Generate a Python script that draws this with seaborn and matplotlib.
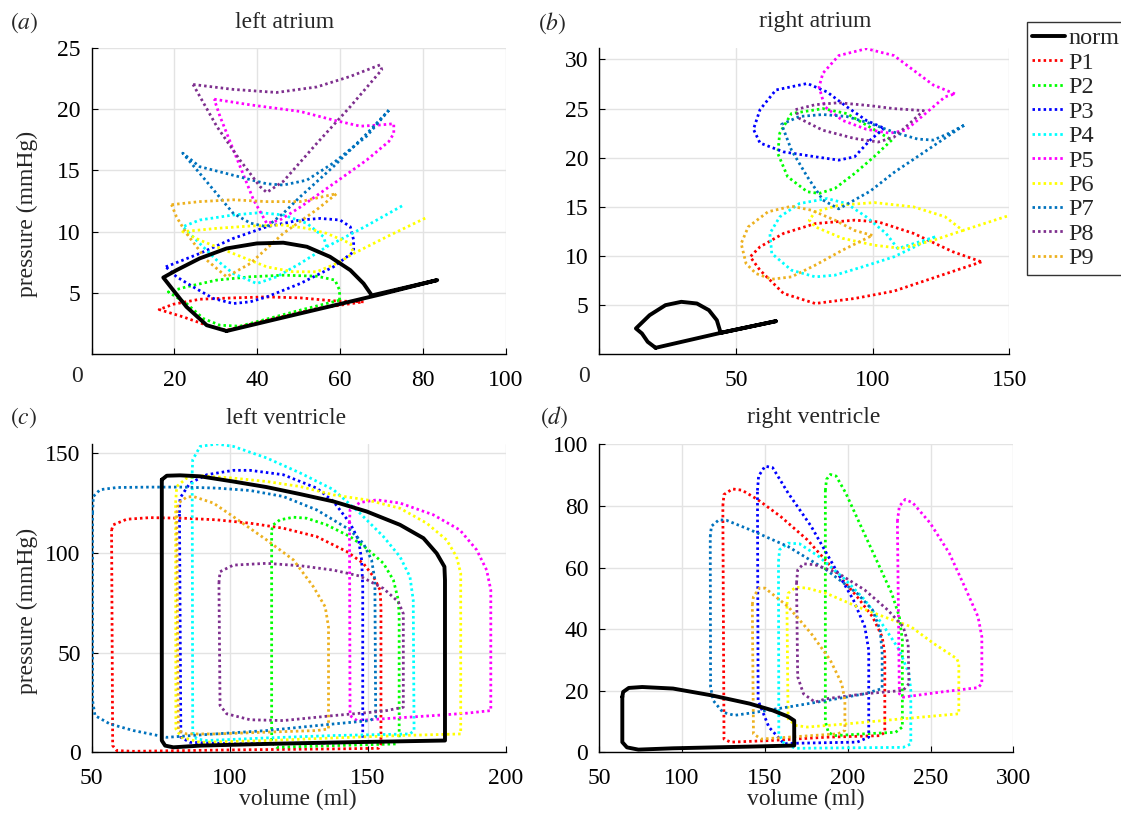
import numpy as np
import pandas as pd
import matplotlib
matplotlib.use("Agg")
import matplotlib.pyplot as plt
from matplotlib.lines import Line2D
import seaborn as sns

SERIES = ["norm", "P1", "P2", "P3", "P4", "P5", "P6", "P7", "P8", "P9"]
COLORS = {"norm": "#000000", "P1": "#ff0000", "P2": "#00ff00", "P3": "#0000ff",
          "P4": "#00ffff", "P5": "#ff00ff", "P6": "#ffff00", "P7": "#0072bd",
          "P8": "#7e2f8e", "P9": "#edb120"}

# ---------------- (a) left atrium ----------------
LA_V = {
    "norm": [32.6, 45, 60, 70, 83.5, 67.7, 65.7, 62.5, 57.6, 52.0, 46.3, 39.9, 32.6, 26.1, 20.5, 17.3, 19.7, 22.9, 27.8, 32.6],
    "P1": [65.7, 58.4, 50.4, 42.3, 34.2, 26.1, 19.7, 16.3, 22.1, 27.8, 32.6, 42.3, 54.4, 65.7],
    "P2": [59.9, 59.9, 58.8, 54.4, 46.3, 38.3, 30.2, 22.9, 18.5, 22.9, 27.0, 31.0, 35.8, 50.4, 59.9],
    "P3": [17.9, 26.1, 34.2, 42.3, 50.4, 55.2, 60, 62.5, 63.3, 63.3, 58.4, 50.4, 42.3, 38.3, 34.2, 29.4, 24.5, 20.5, 17.9],
    "P4": [75, 66, 56.8, 50.4, 44.7, 39.9, 34.2, 30.2, 26.1, 22, 26.1, 34.2, 40.7, 46.3, 52, 56, 56.8],
    "P5": [29.6, 38.3, 50.4, 58.4, 64.9, 69.7, 73, 73, 71.8, 66.5, 58.4, 50.4, 45.5, 42.3, 39.1, 34.2, 31, 29.6],
    "P6": [80.6, 72, 63.3, 59.2, 54.4, 48.7, 42.3, 34.2, 26.1, 22, 30.2, 38.3, 46.3, 52, 56.8, 62.5, 63.3],
    "P7": [71.8, 66.5, 58.4, 52, 46.3, 42.3, 34.2, 26.1, 22, 26.1, 30.2, 34.2, 38.3, 42.3, 46.3, 50.4, 58.4, 66.5, 71.8],
    "P8": [24.5, 34.2, 44.7, 54.4, 62.5, 69.7, 70.1, 62.5, 54.4, 46.3, 42.3, 40.7, 35.8, 30.2, 24.5],
    "P9": [19.3, 26.1, 34.2, 42.3, 50.4, 59.2, 54.4, 46.3, 38.3, 32.6, 27.8, 22.9, 20.5, 19.3],
}
LA_P = {
    "norm": [1.9, 2.9, 4.1, 4.9, 6.05, 4.8, 5.77, 6.86, 7.95, 8.77, 9.1, 9.04, 8.63, 7.82, 6.86, 6.26, 5.23, 3.87, 2.37, 1.9],
    "P1": [4.28, 4.36, 4.6, 4.68, 4.6, 4.49, 4.08, 3.65, 3.05, 2.37, 1.96, 2.78, 3.73, 4.28],
    "P2": [4.41, 5.23, 6.05, 6.37, 6.45, 6.32, 6.05, 5.5, 5.09, 4.14, 2.91, 2.37, 2.29, 3.6, 4.41],
    "P3": [7.13, 8.22, 9.45, 10.4, 10.95, 11.08, 10.95, 10.4, 9.31, 8.36, 7.13, 5.77, 4.68, 4.28, 4.14, 4.55, 5.5, 6.32, 7.13],
    "P4": [12.1, 10.4, 8.77, 7.41, 6.32, 5.77, 6.59, 7.68, 9.04, 10.4, 10.95, 11.36, 11.55, 11.36, 10.68, 9.59, 8.77],
    "P5": [20.8, 20.34, 19.8, 19.1, 18.6, 18.7, 18.8, 18.0, 17.35, 15.85, 13.9, 12.0, 10.95, 10.68, 12.6, 16.7, 19.4, 20.8],
    "P6": [11.1, 9.7, 8.22, 7.41, 6.73, 6.73, 7.13, 8.22, 9.31, 10.0, 10.27, 10.46, 10.54, 10.27, 9.86, 9.04, 8.22],
    "P7": [19.9, 17.8, 15.6, 14.2, 13.8, 13.9, 14.6, 15.3, 16.4, 14.76, 13.1, 11.5, 10.7, 10.4, 11.5, 12.85, 15.3, 18.0, 19.9],
    "P8": [22.0, 21.6, 21.35, 21.8, 22.66, 23.6, 23.2, 20.2, 17.2, 14.1, 13.2, 13.67, 15.85, 18.6, 22.0],
    "P9": [12.2, 12.45, 12.6, 12.45, 12.45, 13.1, 11.8, 9.86, 7.4, 6.32, 7.68, 9.86, 11.2, 12.2],
}

# ---------------- (b) right atrium ----------------
RA_V = {
    "norm": [20.6, 44.4, 64.6, 44.4, 43, 40.1, 35.7, 30, 24.2, 18.4, 13.4, 15.6, 17.7, 20.6],
    "P1": [139.8, 107.8, 93.4, 79, 67.4, 58.8, 55.2, 58.8, 67.4, 79, 93.4, 102, 115, 129.4, 139.8],
    "P2": [107, 100.5, 93.4, 86.2, 80.4, 76.1, 68.9, 65.3, 66, 70.3, 81.8, 90.5, 99.1, 107],
    "P3": [104.2, 99.1, 93.4, 87.6, 79, 67.4, 58.8, 56.4, 58.8, 64.6, 76.1, 83.3, 90.5, 97.7, 104.2],
    "P4": [122.9, 109.2, 104.9, 97.7, 90.5, 83.3, 73.2, 66, 62.4, 63.1, 70.3, 79, 86.2, 96.3, 107.8, 122.9],
    "P5": [130.1, 122.2, 115, 107.8, 97.7, 87.6, 81.8, 80.4, 82.5, 89, 97.7, 106.3, 112.1, 119.3, 126.5, 130.1],
    "P6": [153, 133, 126.5, 115, 100.6, 87.6, 79, 76.8, 79, 89, 100.6, 110.7, 122.2, 133],
    "P7": [133.4, 128, 122.2, 116.5, 107.8, 99.1, 90.5, 81.8, 73.2, 66.7, 70.3, 76.1, 81.8, 87.6, 99.1, 107.8, 122.2, 133.4],
    "P8": [71.8, 79, 87.6, 99.1, 107.8, 118.6, 113.6, 107.8, 102, 93.4, 81.8, 73.2, 71.8],
    "P9": [99.9, 93.4, 86.2, 77.5, 70.3, 61.7, 54.5, 51.9, 53.7, 57.3, 63.1, 70.3, 79, 89, 99.9],
}
RA_P = {
    "norm": [0.66, 2.18, 3.37, 2.18, 3.47, 4.49, 5.17, 5.34, 5.0, 3.98, 2.63, 2.12, 1.27, 0.66],
    "P1": [9.41, 6.43, 5.68, 5.17, 6.19, 8.56, 9.92, 10.94, 12.3, 13.3, 13.65, 13.48, 12.3, 10.43, 9.41],
    "P2": [21.8, 20.1, 18.4, 16.88, 16.37, 16.54, 18.07, 20.44, 22.5, 24.5, 25.0, 24.5, 23.1, 21.8],
    "P3": [23.0, 21.8, 20.1, 19.76, 20.1, 20.6, 21.5, 22.9, 24.9, 26.9, 27.56, 26.7, 25.2, 23.8, 23.0],
    "P4": [11.95, 10.76, 12.3, 13.98, 15.34, 15.85, 15.34, 13.98, 12.3, 10.26, 8.56, 7.88, 8.05, 8.9, 9.92, 11.95],
    "P5": [26.5, 27.4, 28.9, 30.4, 31.1, 30.4, 28.6, 27.2, 25.2, 23.8, 22.9, 22.5, 22.8, 24.5, 26.2, 26.5],
    "P6": [14.4, 12.6, 14.0, 15.0, 15.44, 15.17, 14.5, 13.65, 12.97, 11.8, 11.1, 10.77, 11.6, 12.6],
    "P7": [23.3, 22.5, 21.8, 21.9, 22.6, 23.5, 24.2, 24.4, 24.2, 23.4, 20.78, 18.07, 15.7, 14.8, 16.6, 18.5, 21.2, 23.3],
    "P8": [24.9, 25.4, 25.6, 25.3, 25.0, 24.8, 23.5, 22.1, 21.6, 21.96, 22.8, 24.0, 24.9],
    "P9": [12.1, 12.6, 13.65, 14.67, 15.07, 14.5, 12.97, 11.27, 9.23, 8.22, 7.64, 7.88, 9.07, 10.6, 12.1],
}

# ---------------- (c) left ventricle ----------------
LV_V = {
    "norm": [75.4, 77.2, 82, 89.3, 101.3, 113.4, 125.5, 137.6, 149.6, 161.7, 170.2, 175, 177.8, 178, 178, 161.7, 137.6, 113.4, 89.3, 79.6, 76.6, 75.4, 75.4],
    "P1": [57.2, 57.8, 62.7, 71.1, 83.2, 95.3, 107.4, 119.4, 131.5, 142.4, 148.4, 152.1, 154.5, 154.8, 154.8, 153.9, 137.6, 101.3, 65.1, 59.1, 57.6, 57.2],
    "P2": [115.2, 115.8, 118.2, 123.1, 127.9, 135.1, 143.6, 149.6, 155.7, 159.3, 161.1, 161.4, 161.4, 160.5, 137.6, 117, 115.2, 115.2],
    "P3": [81.8, 82, 85.6, 91.7, 101.3, 107.4, 119.4, 131.5, 137.6, 143.6, 146.7, 147.8, 148.2, 148.2, 148.2, 125.5, 101.3, 85.6, 82.3, 81.8],
    "P4": [86.4, 86.6, 89.3, 95.3, 101.3, 113.4, 125.5, 137.6, 147.2, 155.7, 161.7, 165.3, 166.5, 166.8, 165.3, 137.6, 113.4, 91.7, 88.0, 86.6, 86.4],
    "P5": [143.4, 143.6, 147.2, 153.3, 161.7, 173.8, 183.4, 189.5, 193.1, 194.6, 194.6, 185.9, 173.8, 155.7, 146.1, 143.6, 143.4],
    "P6": [80.4, 80.8, 84.4, 89.3, 101.3, 113.4, 125.5, 137.6, 149.6, 161.7, 171.4, 178.6, 182.2, 183.7, 183.7, 161.7, 137.6, 113.4, 89.3, 82.6, 80.5, 80.4],
    "P7": [50.3, 50.6, 53, 59.1, 71.1, 83.2, 95.3, 107.4, 119.4, 131.5, 143.6, 148.4, 151.4, 152.6, 152.9, 150.8, 137.6, 113.4, 89.3, 77.2, 65.1, 56.6, 51.2, 50.3, 50.3],
    "P8": [96.1, 96.5, 101.3, 113.4, 125.5, 137.6, 147.2, 155.7, 161.1, 162.9, 162.9, 155.7, 137.6, 119.4, 107.4, 98.9, 96.5, 96.1],
    "P9": [80.8, 81.4, 84.4, 86.8, 94.1, 101.3, 113.4, 123.1, 130.3, 134.6, 135.8, 135.8, 131.6, 113.4, 95.3, 84.4, 81.4, 80.8],
}
LV_P = {
    "norm": [136.6, 138.6, 138.8, 138.3, 135.7, 132.9, 129.4, 125.7, 120.7, 114, 107.3, 99.7, 93, 86.3, 5.9, 5.5, 4.9, 4.2, 3.35, 2.5, 3.35, 5.9, 136.6],
    "P1": [111.4, 114, 116.8, 117.6, 117.3, 116.5, 114.8, 112.3, 108.1, 100.6, 94.7, 88, 81.3, 72.9, 4.2, 2.0, 1.7, 1.2, 0.5, 0.84, 3.35, 111.4],
    "P2": [111.4, 114, 116.5, 117.8, 117.3, 114, 108.1, 102.2, 94.7, 86.3, 76.3, 67.9, 5.9, 4.2, 3.35, 2.5, 5.0, 111.4],
    "P3": [120, 127.4, 134.9, 139.1, 141.3, 141.3, 139.1, 132.4, 125.7, 114.8, 106.4, 96.4, 83, 7.5, 5.0, 4.5, 4.2, 5.0, 7.5, 120],
    "P4": [140, 146.6, 153.3, 154.5, 153.3, 147.5, 140, 131.6, 119.8, 108.1, 98, 88, 76.3, 10.9, 9.2, 8.4, 7.2, 5.9, 6.7, 10, 140],
    "P5": [115, 121.5, 125.2, 126.5, 124.9, 119, 111.4, 101.4, 91.3, 81.3, 20.9, 19.6, 18.4, 16.8, 15.9, 18.4, 115],
    "P6": [125, 133.2, 137.4, 138.6, 137.4, 135.7, 133.2, 129, 126.5, 122.3, 114.8, 106.4, 98, 89.7, 9.2, 8.4, 7.2, 5.9, 5.0, 7.5, 11.7, 125],
    "P7": [120, 128.2, 131.6, 132.7, 132.9, 132.9, 132.4, 131.2, 128.2, 121.5, 111.4, 104.7, 96.4, 86.3, 17.6, 15.9, 14.2, 10.9, 8.7, 7.5, 10.9, 14.2, 18.4, 26, 120],
    "P8": [85, 90.5, 93.8, 94.7, 93.5, 91.3, 88.3, 82.1, 75.4, 69.5, 22.6, 20.6, 18.4, 15.9, 16.3, 19.3, 23.5, 85],
    "P9": [120, 124.9, 127.9, 128.2, 124.9, 118.1, 106.4, 96.4, 83, 72.9, 62.8, 11.7, 10.9, 10.1, 9.2, 9.2, 10.9, 120],
}

# ---------------- (d) right ventricle ----------------
RV_V = {
    "norm": [63.9, 64.4, 67.8, 75.9, 94.5, 117.7, 140.8, 154.7, 164, 167.7, 167.7, 140.8, 94.5, 73.6, 66.7, 63.9, 63.9],
    "P1": [124.6, 125.3, 130.4, 136.2, 145.5, 159.4, 175.6, 191.8, 205.7, 215, 220.8, 222.4, 222.4, 219.6, 187.2, 152.4, 129.2, 125.3, 124.6],
    "P2": [186.5, 187.2, 189.5, 193, 198.8, 208, 217.3, 226.6, 231.2, 233, 233, 228.9, 210.3, 191.8, 188.3, 186.5, 186.5],
    "P3": [145.5, 146.2, 150.1, 154.7, 164, 177.9, 191.8, 203.4, 210.3, 212.7, 212.7, 205.7, 164, 161.7, 152.4, 145.9, 145.5],
    "P4": [158.2, 158.9, 164, 170.9, 182.5, 198.7, 210.3, 221.9, 231.2, 237, 238.1, 238.1, 233.5, 187.2, 168.6, 161.7, 158.4, 158.2],
    "P5": [230, 231.2, 234.7, 239.3, 249.7, 261.3, 270.6, 278.7, 281, 281, 278.7, 256.7, 233.5, 231.2, 230],
    "P6": [163.3, 164, 168.6, 175.6, 187.2, 205.7, 221.9, 238.1, 252, 265.9, 267.1, 267.1, 233.5, 198.7, 175.6, 168.6, 164, 163.3],
    "P7": [117, 117.7, 122.3, 126.9, 140.8, 164, 187.2, 205.7, 215, 219.6, 220.8, 220.8, 210.3, 187.2, 164, 140.8, 131.6, 124.6, 118.8, 117.2, 117],
    "P8": [169.1, 169.8, 173.3, 180.2, 194.1, 210.3, 224.2, 233.5, 236.5, 237, 233.5, 210.3, 187.2, 180.2, 173.3, 169.8, 169.1],
    "P9": [142.4, 143.1, 146.6, 150.1, 164, 177.9, 189.5, 196.4, 198.3, 198.3, 194.1, 164, 147.7, 143.1, 142.4],
}
RV_P = {
    "norm": [18, 19.6, 20.9, 21.2, 20.7, 18.5, 15.8, 13.6, 11.6, 10.3, 2.2, 1.85, 1.3, 0.87, 1.6, 3.3, 18],
    "P1": [80, 83.7, 85.5, 85.1, 82.1, 76.6, 69, 59.2, 50.5, 44, 37.5, 32.1, 6.5, 5.4, 4.9, 3.8, 3.3, 4.3, 80],
    "P2": [85, 88.6, 90.2, 89.7, 84.2, 73.4, 62.5, 51.6, 44, 36.4, 8.2, 6.5, 6.0, 5.4, 6.5, 10, 85],
    "P3": [85, 89.7, 92.9, 92.4, 84.2, 73.4, 60.3, 49.5, 40.8, 33.2, 4.9, 3.3, 2.9, 2.7, 8.2, 16.8, 85],
    "P4": [62, 65.8, 67.9, 67.7, 63.6, 56, 49.5, 40.8, 33.2, 25.5, 20.1, 2.7, 1.6, 1.4, 1.3, 2.7, 6, 62],
    "P5": [75, 79.9, 82.1, 81, 74.5, 64.7, 53.8, 44, 37.5, 22.3, 21, 19.6, 17.9, 19, 75],
    "P6": [48, 51.6, 53.6, 53.3, 51.6, 47.3, 44, 40.8, 35.3, 30.4, 28.8, 12.5, 10.9, 9.2, 8.2, 8.7, 10.9, 48],
    "P7": [70, 73.4, 75.5, 75.3, 72.3, 66.8, 59.2, 51.6, 46.2, 39.7, 32.1, 20.7, 19, 16.8, 14.7, 12.7, 12, 13, 16.8, 21.2, 70],
    "P8": [55, 59.2, 61.2, 60.9, 58.2, 52.7, 46.2, 40.8, 35.3, 22.3, 20.1, 19, 17.4, 16.3, 19, 24.5, 55],
    "P9": [48, 50.5, 53.3, 53.3, 47.3, 38.6, 29.9, 22.3, 16.8, 7.1, 6, 4.9, 4.3, 6, 48],
}

TITLES = ["left atrium", "right atrium", "left ventricle", "right ventricle"]
LETTERS = ["a", "b", "c", "d"]
XLIMS = [(0, 100), (0, 150), (50, 200), (50, 300)]
YLIMS = [(0, 25), (0, 31.2), (0, 154.5), (0, 100)]
XTICKS = [[0, 20, 40, 60, 80, 100], [0, 50, 100, 150], [50, 100, 150, 200], [50, 100, 150, 200, 250, 300]]
YTICKS = [[5, 10, 15, 20, 25], [5, 10, 15, 20, 25, 30], [0, 50, 100, 150], [0, 20, 40, 60, 80, 100]]

sns.set_theme(style="white")
plt.rcParams["font.family"] = ["Liberation Serif", "DejaVu Serif"]
plt.rcParams["mathtext.fontset"] = "stix"

W, H = 1121, 813
fig = plt.figure(figsize=(W / 100, H / 100), dpi=100)
boxes = [(91.7, 47.7, 505.5, 354.3), (599.3, 47.7, 1009.3, 354.3),
         (91.7, 444.0, 505.7, 752.3), (599.3, 444.3, 1013.3, 752.3)]
axes = []
for (l, t, r, b) in boxes:
    axes.append(fig.add_axes([l / W, 1 - b / H, (r - l) / W, (b - t) / H]))

panels = [(LA_V, LA_P), (RA_V, RA_P), (LV_V, LV_P), (RV_V, RV_P)]
FS = 17
DOT = (0, (0.9, 1.1))


def fx(px):
    return px / W


def fy(py):
    return 1 - py / H


for i, (ax, (vd, pd_)) in enumerate(zip(axes, panels)):
    for s in SERIES[1:] + ["norm"]:
        df = pd.DataFrame({"v": vd[s], "p": pd_[s]})
        if s == "norm":
            sns.lineplot(data=df, x="v", y="p", sort=False, estimator=None, ax=ax,
                         color="black", lw=2.8, zorder=5)
        else:
            sns.lineplot(data=df, x="v", y="p", sort=False, estimator=None, ax=ax,
                         color=COLORS[s], lw=2.0, linestyle=DOT, zorder=3)
    ax.set_xlim(*XLIMS[i])
    ax.set_ylim(*YLIMS[i])
    ax.set_xticks(XTICKS[i])
    ax.set_yticks(YTICKS[i])
    xl = [str(t) for t in XTICKS[i]]
    if i < 2:
        xl[0] = ""  # the zero label sits left of the axis in the reference
    ax.set_xticklabels(xl)
    ax.grid(True, color="#e3e3e3", lw=1.0)
    ax.set_axisbelow(True)
    for sp in ["top", "right"]:
        ax.spines[sp].set_visible(False)
    for sp in ["left", "bottom"]:
        ax.spines[sp].set_color("black")
        ax.spines[sp].set_linewidth(1.0)
    ax.tick_params(direction="in", length=4, width=0.8, labelsize=FS,
                   left=True, bottom=True, colors="black")
    ax.tick_params(axis="x", pad=11)
    ax.tick_params(axis="y", pad=8)
    ax.set_xlabel("")
    ax.set_ylabel("")

# zero labels of the atrium panels
fig.text(fx(77), fy(377), "0", fontsize=FS, ha="center", va="center")
fig.text(fx(584), fy(377), "0", fontsize=FS, ha="center", va="center")

# titles
for (x, y), t in zip([(285, 22), (815, 22), (286, 418), (814, 417)], TITLES):
    fig.text(fx(x), fy(y), t, fontsize=FS, ha="center", va="center")

# axis labels
fig.text(fx(27.5), fy(214), "pressure (mmHg)", fontsize=FS, rotation=90, ha="center", va="center")
fig.text(fx(27.5), fy(611), "pressure (mmHg)", fontsize=FS, rotation=90, ha="center", va="center")
fig.text(fx(297.5), fy(799), "volume (ml)", fontsize=FS, ha="center", va="center")
fig.text(fx(806), fy(799), "volume (ml)", fontsize=FS, ha="center", va="center")

# panel letters
for (x, y), L in zip([(10, 23), (538, 23), (10, 418), (540, 417)], LETTERS):
    fig.text(fx(x), fy(y), r"$(\mathit{%s})$" % L, fontsize=FS, va="center", ha="left")

handles = []
for s in SERIES:
    if s == "norm":
        handles.append(Line2D([], [], color="black", lw=2.8))
    else:
        handles.append(Line2D([], [], color=COLORS[s], lw=2.0, linestyle=DOT))
leg = fig.legend(handles, SERIES, loc="upper left", bbox_to_anchor=(fx(1027), fy(22)),
                 fontsize=17.5, frameon=True, fancybox=False, edgecolor="black",
                 handlelength=1.35, handletextpad=0.12, labelspacing=0.1, borderpad=0.22,
                 borderaxespad=0)
leg.get_frame().set_linewidth(1.0)

fig.savefig("out.png", dpi=100)
